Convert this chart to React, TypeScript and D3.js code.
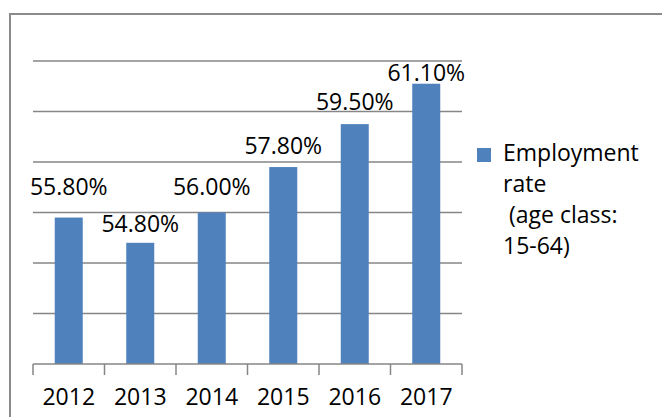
import React from "react";
import * as d3 from "d3";

const years = ["2012", "2013", "2014", "2015", "2016", "2017"];
const rates = [55.8, 54.8, 56.0, 57.8, 59.5, 61.1];
const rateLabels = ["55.80%", "54.80%", "56.00%", "57.80%", "59.50%", "61.10%"];
const gridValues = [52, 54, 56, 58, 60, 62];
const legendLines = ["Employment", "rate", " (age class:", "15-64)"];

// layout: pixel gap between each data label baseline and its bar top
const labelGap = [23, 11, 18, 13, 14, 3];

const W = 662;
const H = 417;
const FONT = "'Open Sans', 'DejaVu Sans', sans-serif";

export default function App() {
  const x = d3.scaleBand<string>().domain(years).range([33, 462]).paddingInner(0.6).paddingOuter(0.3);
  const xb = d3.scaleBand<string>().domain(years).range([33, 462]);
  const y = d3.scaleLinear().domain([50, 62]).range([364, 61]);
  const bounds = [...years.map((d) => xb(d) as number), 462];

  return (
    <svg
      width={W}
      height={H}
      style={{ position: "absolute", left: 0, top: 0, background: "#fff" }}
      fontFamily={FONT}
    >
      <rect x={10} y={14} width={700} height={500} fill="#fff" stroke="#8a8a8a" strokeWidth={2} />
      {gridValues.map((g) => (
        <line key={g} x1={33} x2={462} y1={y(g)} y2={y(g)} stroke="#868686" strokeWidth={1.5} />
      ))}
      {years.map((d, i) => (
        <rect
          key={d}
          x={(xb(d) as number) + xb.bandwidth() / 2 - 14}
          y={y(rates[i])}
          width={28}
          height={y(50) - y(rates[i])}
          fill="#4f81bd"
        />
      ))}
      <line x1={33} x2={462} y1={y(50)} y2={y(50)} stroke="#868686" strokeWidth={1.5} />
      {bounds.map((b, i) => (
        <line key={i} x1={b} x2={b} y1={y(50)} y2={y(50) + 11} stroke="#868686" strokeWidth={1.5} />
      ))}
      {years.map((d, i) => (
        <text
          key={"l" + d}
          x={(xb(d) as number) + xb.bandwidth() / 2}
          y={y(rates[i]) - labelGap[i]}
          textAnchor="middle"
          fontSize={23}
          fill="#000"
        >
          {rateLabels[i]}
        </text>
      ))}
      {years.map((d) => (
        <text
          key={"y" + d}
          x={(xb(d) as number) + xb.bandwidth() / 2}
          y={405}
          textAnchor="middle"
          fontSize={23}
          fill="#000"
        >
          {d}
        </text>
      ))}
      <rect x={477} y={148} width={14} height={14} fill="#4f81bd" />
      {legendLines.map((t, i) => (
        <text key={t} x={503} y={161 + i * 31} fontSize={23} fill="#000" style={{ whiteSpace: "pre" }}>
          {t}
        </text>
      ))}
    </svg>
  );
}
